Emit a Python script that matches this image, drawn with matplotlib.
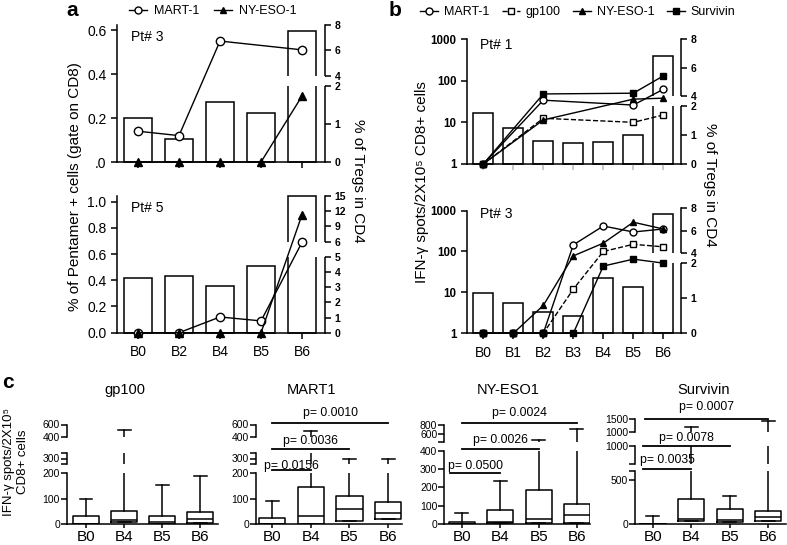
import numpy as np
import matplotlib
matplotlib.use("Agg")
import matplotlib.pyplot as plt
from matplotlib.lines import Line2D
from matplotlib.ticker import NullLocator

plt.rcParams['font.family'] = ['Liberation Sans', 'DejaVu Sans']
plt.rcParams['axes.linewidth'] = 1.1

W, H = 787, 545

# ---- panel a : pentamer+ (left axis) and Tregs (right axis, bars)
a_days = ['B0', 'B2', 'B4', 'B5', 'B6']
pt3_a_mart1 = [0.14, 0.12, 0.55, np.nan, 0.51]
pt3_a_nyeso1 = [0, 0, 0, 0, 0.30]
pt3_a_treg = [1.16, 0.60, 1.58, 1.30, 7.5]
pt5_a_mart1 = [0, 0, 0.12, 0.09, 0.69]
pt5_a_nyeso1 = [0, 0, 0, 0, 0.90]
pt5_a_treg = [3.6, 3.7, 3.1, 4.4, 15]

# ---- panel b : IFN-g spots (log) and Tregs
b_days = ['B0', 'B1', 'B2', 'B3', 'B4', 'B5', 'B6']
pt1_days = ['B0', 'B2', 'B5', 'B6']
pt1_mart1 = [1, 34, 26, 62]
pt1_gp100 = [1, 12.5, 10, 15]
pt1_nyeso1 = [1, 11.4, 36, 38]
pt1_survivin = [1, 48, 50, 130]
pt1_treg = [1.75, 1.23, 0.78, 0.71, 0.75, 1.01, 6.8]
pt3_mart1 = [1, 1, 1, 145, 420, 300, 355]
pt3_gp100 = [1, 1, 1, 12, 100, 150, 130]
pt3_nyeso1 = [1, 1, 4.8, 78, 160, 520, 355]
pt3_survivin = [1, 1, 1, 1, 44, 65, 52]
pt3_treg = [1.15, 0.85, 0.60, 0.50, 1.58, 1.30, 7.45]

# ---- panel c : box plots (q1, median, q3, upper whisker)
c_days = ['B0', 'B4', 'B5', 'B6']
gp100_q1 = [0, 9, 0, 5]
gp100_med = [1, 15, 9, 19]
gp100_q3 = [33, 51, 33, 49]
gp100_hi = [99, 520, 155, 191]
mart1_q1 = [0, 1, 10, 20]
mart1_med = [1, 32, 60, 45]
mart1_q3 = [23, 145, 112, 87]
mart1_hi = [92, 494, 300, 300]
nyeso1_q1 = [0, 4, 6, 6]
nyeso1_med = [1, 9, 30, 50]
nyeso1_q3 = [9, 78, 185, 111]
nyeso1_hi = [59, 237, 470, 710]
surv_q1 = [0, 37, 19, 30]
surv_med = [1, 56, 44, 85]
surv_q3 = [5, 285, 174, 155]
surv_hi = [93, 1200, 327, 1440]

fig = plt.figure(figsize=(W / 100, H / 100), dpi=100)


def box(x0, y0, x1, y1):
    return fig.add_axes([x0 / W, 1 - y1 / H, (x1 - x0) / W, (y1 - y0) / H])


def ftext(x, y, s, **kw):
    fig.text(x / W, 1 - y / H, s, **kw)


def piecewise(vals, pix):
    v = list(vals)
    p = list(pix)
    slope = (p[-1] - p[-2]) / (v[-1] - v[-2])
    v.append(v[-1] * 10)
    p.append(p[-1] + slope * (v[-1] - v[-2]))
    v = np.array(v, float)
    p = np.array(p, float)
    return (lambda y: np.interp(y, v, p)), (lambda q: np.interp(q, p, v))


def treg_axis(ax, treg, vals, pix, segs, ticks):
    ax2 = ax.twinx()
    ax2.set_yscale('function', functions=piecewise(vals, pix))
    ax2.set_ylim(0, vals[-1])
    for s in ax2.spines.values():
        s.set_visible(False)
    ax2.bar(range(len(treg)), treg, width=0.68, facecolor='white',
            edgecolor='black', lw=1.1, zorder=2, clip_on=False)
    for lo, hi in segs:
        ax2.plot([1, 1], [lo, hi], transform=ax2.get_yaxis_transform(),
                 color='k', lw=1.1, clip_on=False)
    for (lo1, hi1), (lo2, hi2) in zip(segs[:-1], segs[1:]):
        ax2.axhspan(hi1, lo2, color='white', lw=0, zorder=3)
    ax2.set_yticks(ticks)
    ax2.tick_params(axis='y', length=4, width=1.1, labelsize=7.5, pad=3)
    for t in ax2.get_yticklabels():
        t.set_fontweight('bold')
    ax.set_zorder(ax2.get_zorder() + 1)
    ax.patch.set_visible(False)
    for k in ['top', 'right']:
        ax.spines[k].set_visible(False)
    return ax2


def series(ax, xs, ys, marker, filled, ls='-', ms=6):
    xs = np.asarray(xs, float)
    ys = np.asarray(ys, float)
    ok = ~np.isnan(ys)
    ax.plot(xs[ok], ys[ok], color='k', ls=ls, lw=1, marker=marker, ms=ms,
            mfc='k' if filled else 'white', mec='k', mew=1,
            clip_on=False, zorder=5)


# ================= panel a =================
xa = np.arange(len(a_days))
for (y0, y1, mart, ny, treg, top, vals, pix, segs, ticks, lticks, llabels, pt, showx) in [
        (25, 162, pt3_a_mart1, pt3_a_nyeso1, pt3_a_treg, 0.623,
         [0, 2, 4, 8], [0, 76, 86, 137], [(0, 2), (4, 8)], [0, 1, 2, 4, 6, 8],
         [0, 0.2, 0.4, 0.6], ['.0', '0.2', '0.4', '0.6'], 'Pt# 3', False),
        (196, 332.7, pt5_a_mart1, pt5_a_nyeso1, pt5_a_treg, 1.043,
         [0, 5, 6, 15], [0, 76, 91, 136.7], [(0, 5), (6, 15)],
         [0, 1, 2, 3, 4, 5, 6, 9, 12, 15],
         [0, 0.2, 0.4, 0.6, 0.8, 1.0], ['0.0', '0.2', '0.4', '0.6', '0.8', '1.0'],
         'Pt# 5', True)]:
    ax = box(117, y0, 325, y1)
    treg_axis(ax, treg, vals, pix, segs, ticks)
    ax.set_ylim(0, top)
    ax.set_xlim(-0.512, 4.56)
    series(ax, xa, mart, 'o', False)
    series(ax, xa, ny, '^', True)
    ax.set_yticks(lticks, labels=llabels)
    ax.set_xticks(xa, labels=a_days if showx else [''] * len(xa))
    ax.tick_params(axis='both', length=4, width=1.1, labelsize=10)
    ax.tick_params(axis='x', pad=5)
    ftext(147, y0 + 12, pt, ha='center', va='center', fontsize=10)

ftext(75, 187, '% of Pentamer + cells (gate on CD8)', rotation=90,
      ha='center', va='center', fontsize=11)
ftext(358, 181, '% of Tregs in CD4', rotation=270, ha='center', va='center', fontsize=11)

# ================= panel b =================
xb = np.arange(len(b_days))
x1 = [b_days.index(d) for d in pt1_days]
for (y0, y1, ltop, vals, pix, pts, treg, pt, showx) in [
        (39, 164, 1000, [0, 2, 4, 8], [0, 58, 68, 125],
         (pt1_mart1, pt1_gp100, pt1_nyeso1, pt1_survivin), pt1_treg, 'Pt# 1', False),
        (208, 333.3, 10 ** (125.3 / 40.9), [0, 2, 4, 8], [0, 70.6, 80, 125.3],
         (pt3_mart1, pt3_gp100, pt3_nyeso1, pt3_survivin), pt3_treg, 'Pt# 3', True)]:
    ax = box(467, y0, 681, y1)
    treg_axis(ax, treg, vals, pix, [(0, 2), (4, 8)], [0, 1, 2, 4, 6, 8])
    ax.set_yscale('log')
    ax.set_ylim(1, ltop)
    ax.spines['left'].set_bounds(1, 1000)
    ax.set_xlim(-0.543, 6.59)
    xs = xb if showx else x1
    series(ax, xs, pts[0], 'o', False, ms=5)
    series(ax, xs, pts[1], 's', False, ls='--', ms=4.5)
    series(ax, xs, pts[2], '^', True, ms=5)
    series(ax, xs, pts[3], 's', True, ms=4.5)
    ax.set_yticks([1, 10, 100, 1000], labels=['1', '10', '100', '1000'])
    ax.yaxis.set_minor_locator(NullLocator())
    for t in ax.get_yticklabels():
        t.set_fontweight('bold')
    ax.set_xticks(xb, labels=b_days if showx else [''] * len(xb))
    ax.tick_params(axis='y', length=4, width=1.1, labelsize=8.3)
    ax.tick_params(axis='x', length=4, width=1.1, labelsize=10, pad=5)
    if not showx:
        ax.tick_params(axis='x', color='#bbbbbb')
    ftext(496, y0 + 6, pt, ha='center', va='center', fontsize=10)

ftext(422, 182, 'IFN-γ spots/2X10⁵ CD8+ cells', rotation=90,
      ha='center', va='center', fontsize=11)
ftext(710, 185, '% of Tregs in CD4', rotation=270, ha='center', va='center', fontsize=11)

# ================= panel c =================
xc = np.arange(len(c_days))
c_panels = [
    ('gp100', 125, 67, 218, (-0.5, 3.47), gp100_q1, gp100_med, gp100_q3, gp100_hi,
     [0, 200, 260, 340, 400, 600], [0, 50.7, 59.7, 71.3, 86.8, 99.5],
     [(0, 200), (260, 340), (400, 600)],
     [0, 100, 200, 260, 300, 340, 400, 600], ['0', '100', '200', '', '300', '', '400', '600'],
     []),
    ('MART1', 311, 256, 402, (-0.42, 3.36), mart1_q1, mart1_med, mart1_q3, mart1_hi,
     [0, 200, 260, 340, 400, 600], [0, 50.7, 59.7, 71.3, 86.8, 99.5],
     [(0, 200), (260, 340), (400, 600)],
     [0, 100, 200, 260, 300, 340, 400, 600], ['0', '100', '200', '', '300', '', '400', '600'],
     [(0, 3, 423.3, 412.7, 'p= 0.0010'), (0, 2, 449.3, 441, 'p= 0.0036'),
      (0, 1, 470, 465.7, 'p= 0.0156')]),
    ('NY-ESO1', 508, 444.3, 590, (-0.46, 3.34), nyeso1_q1, nyeso1_med, nyeso1_q3, nyeso1_hi,
     [0, 400, 420, 800], [0, 73.3, 81.6, 99.3],
     [(0, 400), (420, 800)],
     [0, 100, 200, 300, 400, 420, 600, 800], ['0', '100', '200', '300', '400', '', '600', '800'],
     [(0, 3, 423.3, 412.7, 'p= 0.0024'), (0, 2, 449, 440, 'p= 0.0026'),
      (-0.3, 1, 473.3, 466, 'p= 0.0500')]),
    ('Survivin', 704, 635, 786, (-0.46, 3.46), surv_q1, surv_med, surv_q3, surv_hi,
     [0, 604, 650, 1000, 1010, 1500], [0, 52.6, 60.3, 77.6, 91.6, 105],
     [(0, 604), (650, 1000), (1010, 1500)],
     [0, 500, 604, 650, 1000, 1010, 1500], ['0', '500', '', '', '1000', '1000', '1500'],
     [(-0.2, 3, 419, 406.7, 'p= 0.0007'), (-0.25, 2, 445.7, 437.7, 'p= 0.0078'),
      (-0.25, 1, 469, 460, 'p= 0.0035')]),
]
cy0, cy1 = 400, 524
for (name, tx, x0, x1_, xlim, q1, med, q3, hi, vals, pix, segs, ticks, tlabels, plines) in c_panels:
    ax = box(x0, cy0, x1_, cy1)
    fwd, inv = piecewise(vals, pix)
    ax.set_yscale('function', functions=(fwd, inv))
    ax.set_ylim(0, float(inv(cy1 - cy0)))
    ax.set_xlim(*xlim)
    stats = [dict(med=m, q1=a, q3=b, whislo=a, whishi=h, label=d)
             for d, a, m, b, h in zip(c_days, q1, med, q3, hi)]
    lp = dict(color='k', lw=1.1)
    ax.bxp(stats, positions=xc, widths=0.68, showfliers=False,
           boxprops=lp, medianprops=lp, whiskerprops=lp, capprops=lp)
    for (lo1, hi1), (lo2, hi2) in zip(segs[:-1], segs[1:]):
        ax.axhspan(hi1, lo2, color='white', lw=0, zorder=2.5)
    for lo, hi_ in segs:
        ax.plot([0, 0], [lo, hi_], transform=ax.get_yaxis_transform(),
                color='k', lw=1.1, clip_on=False, zorder=4)
    for s in ['left', 'top', 'right']:
        ax.spines[s].set_visible(False)
    ax.set_yticks(ticks, labels=tlabels)
    ax.yaxis.set_minor_locator(NullLocator())
    ax.set_xticks(xc, labels=c_days)
    ax.tick_params(axis='y', length=4, width=1.1, labelsize=7.5, pad=1)
    ax.tick_params(axis='x', length=3, width=1.1, labelsize=11, pad=1)
    tr = ax.get_xaxis_transform()
    for (xs0, xs1, ly, ty, lab) in plines:
        yf = (cy1 - ly) / (cy1 - cy0)
        tf = (cy1 - ty) / (cy1 - cy0)
        ax.plot([xs0, xs1], [yf, yf], transform=tr, color='k', lw=1.3,
                clip_on=False, zorder=3)
        ax.text((xs0 + xs1) / 2, tf, lab, transform=tr, ha='center', va='center',
                fontsize=8.8, zorder=5)
    ftext(tx, 390, name, ha='center', va='center', fontsize=10.5)

ftext(16, 462, 'IFN-γ spots/2X10⁵\nCD8+ cells', rotation=90, ha='center',
      va='center', fontsize=9.5, multialignment='center')

# ================= legends and panel letters =================
def h(marker, filled, ls='-'):
    return Line2D([], [], color='k', ls=ls, lw=1, marker=marker, ms=5,
                  mfc='k' if filled else 'white', mec='k')

fig.legend([h('o', False), h('^', True)], ['MART-1', 'NY-ESO-1'], loc='center',
           bbox_to_anchor=(213 / W, 1 - 11 / H), ncol=2, frameon=False,
           fontsize=9, handlelength=1.4, handletextpad=0.6, columnspacing=1.2)
fig.legend([h('o', False), h('s', False, '--'), h('^', True), h('s', True)],
           ['MART-1', 'gp100', 'NY-ESO-1', 'Survivin'], loc='center',
           bbox_to_anchor=(578 / W, 1 - 12 / H), ncol=4, frameon=False,
           fontsize=9, handlelength=1.4, handletextpad=0.5, columnspacing=1.0)

ftext(72, 11, 'a', ha='center', va='center', fontsize=15, fontweight='bold')
ftext(395, 11, 'b', ha='center', va='center', fontsize=15, fontweight='bold')
ftext(8, 383, 'c', ha='center', va='center', fontsize=15, fontweight='bold')

fig.savefig('out.png', dpi=100)
